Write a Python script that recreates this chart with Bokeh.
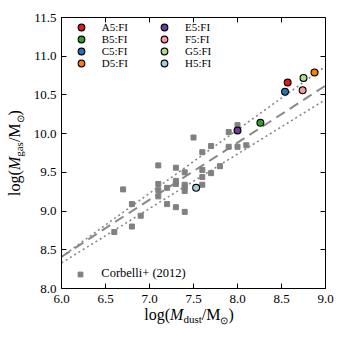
from bokeh.plotting import figure
from bokeh.models import (Legend, LegendItem, LinearAxis, FixedTicker,
                          NumeralTickFormatter, Range1d, Div, CustomLabelingPolicy)
from bokeh.layouts import row, column
from bokeh.embed import file_html
from bokeh.resources import INLINE

# Corbelli+ (2012) observations
corb_dust = [6.6, 6.7, 6.8, 6.8, 6.9, 7.1, 7.1, 7.1, 7.1, 7.2, 7.2, 7.3, 7.3, 7.3, 7.3,
             7.4, 7.4, 7.4, 7.4, 7.4, 7.5, 7.6, 7.6, 7.6, 7.6, 7.7, 7.7, 7.8, 7.9, 7.9,
             8.0, 8.0, 8.1]
corb_gas = [8.73, 9.28, 9.09, 8.80, 8.94, 9.59, 9.35, 9.27, 9.19, 9.30, 9.09, 9.56, 9.39,
            9.35, 9.05, 9.50, 9.34, 9.31, 9.26, 8.99, 9.95, 9.76, 9.53, 9.44, 9.34, 9.84,
            9.49, 9.58, 10.02, 9.83, 10.11, 9.83, 9.85]

# simulated models
models = ["A5:FI", "B5:FI", "C5:FI", "D5:FI", "E5:FI", "F5:FI", "G5:FI", "H5:FI"]
model_dust = [8.57, 8.26, 8.54, 8.875, 8.00, 8.74, 8.75, 7.53]
model_gas = [10.66, 10.14, 10.54, 10.79, 10.04, 10.56, 10.72, 9.30]
model_colors = ["#e31a1c", "#33a02c", "#1f78b4", "#ff7f00",
                "#6a3d9a", "#fb9a99", "#b2df8a", "#a6cee3"]

# relations
fit_x = [6.0, 9.0]
fit_mid = [8.41, 10.62]
fit_hi = [8.41, 10.87]
fit_lo = [8.33, 10.44]

x_ticks = [6.0, 6.5, 7.0, 7.5, 8.0, 8.5, 9.0]
y_ticks = [8.0, 8.5, 9.0, 9.5, 10.0, 10.5, 11.0, 11.5]

FONT = "Liberation Serif"
W, H = 344, 337
YLAB_W, XLAB_H = 30, 25
PW, PH = W - YLAB_W, H - XLAB_H
BL, BR, BT, BB = 61 - YLAB_W, 19, 17, 49 - XLAB_H
FW, FH = PW - BL - BR, PH - BT - BB

p = figure(width=PW, height=PH, x_range=Range1d(6.0, 9.0), y_range=Range1d(8.0, 11.5),
           output_backend="svg", toolbar_location=None,
           min_border_left=BL, min_border_right=BR, min_border_top=BT, min_border_bottom=BB)
p.xgrid.visible = False
p.ygrid.visible = False
p.outline_line_color = None
p.background_fill_color = "white"
p.border_fill_color = "white"

p.add_layout(LinearAxis(), "above")
p.add_layout(LinearAxis(), "right")

for ax, ticks in [(p.below[0], x_ticks), (p.left[0], y_ticks),
                  (p.above[0], x_ticks), (p.right[0], y_ticks)]:
    ax.ticker = FixedTicker(ticks=ticks)
    ax.formatter = NumeralTickFormatter(format="0.0")
    ax.major_tick_in = 5
    ax.major_tick_out = 0
    ax.minor_tick_in = 0
    ax.minor_tick_out = 0
    ax.axis_line_color = "black"
    ax.axis_line_width = 1
    ax.major_tick_line_color = "black"
    ax.major_label_text_font = FONT
    ax.major_label_text_font_size = "13px"
    ax.major_label_text_color = "black"
    ax.axis_label = None

p.below[0].major_label_standoff = 6
p.left[0].major_label_standoff = 5
for ax in (p.above[0], p.right[0]):
    ax.major_label_policy = CustomLabelingPolicy(code="return new Set()")
    ax.major_label_text_font_size = "0px"
    ax.major_label_standoff = 0

# relations
p.line(fit_x, fit_hi, line_color="#888888", line_width=1.6, line_dash="2 3")
p.line(fit_x, fit_lo, line_color="#888888", line_width=1.6, line_dash="2 3")
p.line(fit_x, fit_mid, line_color="#888888", line_width=2, line_dash="10 6")

corb = p.scatter(corb_dust, corb_gas, marker="square", size=5,
                 fill_color="#808080", line_color="#808080", line_width=1)

rends = []
for name, xd, yg, c in zip(models, model_dust, model_gas, model_colors):
    r_out = p.scatter([xd], [yg], marker="circle", size=5, fill_color="black",
                      line_color="black", line_width=3)
    r_in = p.scatter([xd], [yg], marker="circle", size=5, fill_color=c,
                     line_color=c, line_width=1)
    rends.append((name, [r_out, r_in]))

GW, GH = 12, 14

def make_legend(label, renderers, cx, cy_below_top, fs="11px"):
    # cx: marker centre from frame left; cy_below_top: row centre below frame top
    lg = Legend(items=[LegendItem(label=label, renderers=renderers)],
                location=(cx - GW / 2, FH - cy_below_top - GH / 2),
                glyph_width=GW, glyph_height=GH, label_height=GH, label_standoff=15,
                spacing=0, padding=0, margin=0, background_fill_alpha=0,
                border_line_color=None, label_text_font=FONT,
                label_text_font_size=fs, label_text_color="black")
    p.add_layout(lg, "center")

col_x = [19.7, 103.0]
for i, (name, rr) in enumerate(rends):
    make_legend(name, rr, col_x[i // 4], 9.6 + (i % 4) * 12.25)
make_legend("Corbelli+ (2012)", [corb], 19.3, FH - 14.0, "12.5px")

# axis titles as rich text
LBL = ("font-family:'Liberation Serif';font-size:16px;line-height:16px;color:black;"
       "white-space:nowrap;text-align:center;")
SUB = "font-size:11px;position:relative;top:2.5px;"
SUN = "font-size:10px;position:relative;top:3.5px;"

x_html = (f'<div style="width:{PW}px;height:{XLAB_H}px;position:relative;">'
          f'<div style="position:absolute;left:0px;top:-5px;width:{PW}px;padding-left:4px;'
          f'box-sizing:border-box;{LBL}">'
          f'log(<i>M</i><span style="{SUB}">dust</span>/M'
          f'<span style="{SUN}">⊙</span>)</div></div>')
y_html = (f'<div style="width:{YLAB_W}px;height:{H}px;position:relative;">'
          f'<div style="position:absolute;left:-34.7px;top:144.5px;width:100px;height:16px;'
          f'{LBL}transform:rotate(-90deg);transform-origin:50% 50%;">'
          f'log(<i>M</i><span style="{SUB}">gas</span>/M'
          f'<span style="{SUN}">⊙</span>)</div></div>')

xdiv = Div(text=x_html, width=PW, height=XLAB_H, margin=(0, 0, 0, 0),
           styles={"overflow": "visible"})
ydiv = Div(text=y_html, width=YLAB_W, height=H, margin=(0, 0, 0, 0),
           styles={"overflow": "visible"})

layout = row(ydiv, column(p, xdiv, spacing=0), spacing=0)

open("out.html", "w").write(file_html(layout, INLINE))
